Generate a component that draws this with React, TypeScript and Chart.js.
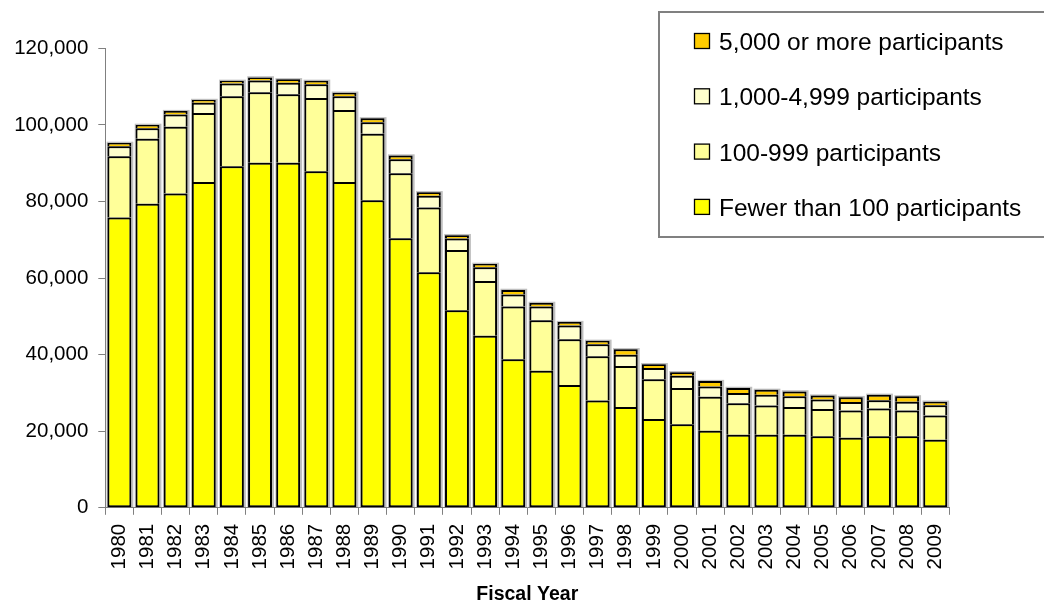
import React, { useEffect, useRef } from 'react';
import { Chart, registerables } from 'chart.js';

Chart.register(...registerables);

const years = [
  '1980', '1981', '1982', '1983', '1984', '1985', '1986', '1987', '1988', '1989',
  '1990', '1991', '1992', '1993', '1994', '1995', '1996', '1997', '1998', '1999',
  '2000', '2001', '2002', '2003', '2004', '2005', '2006', '2007', '2008', '2009',
];

const fewerThan100 = [
  75800, 79400, 82100, 85100, 89200, 90100, 90100, 87900, 85100, 80300,
  70400, 61500, 51600, 44900, 38800, 35800, 32100, 28000, 26300, 23200,
  21800, 20100, 19100, 19100, 19100, 18700, 18300, 18700, 18700, 17800,
];

const from100to999 = [
  16000, 17000, 17400, 18000, 18300, 18400, 17900, 19100, 18800, 17400,
  17000, 16900, 15700, 14300, 13800, 13200, 11900, 11600, 10700, 10400,
  9500, 8900, 8200, 7600, 7200, 7100, 7100, 7200, 6700, 6300,
];

const from1000to4999 = [
  2600, 2700, 3200, 2700, 3300, 3100, 3000, 3600, 3600, 3000,
  3600, 3100, 3000, 3600, 3100, 3600, 3600, 3100, 3000, 2900,
  3200, 2700, 2700, 2800, 2800, 2500, 2200, 2200, 2300, 2700,
];

const from5000up = [
  900, 900, 900, 700, 700, 800, 900, 900, 900, 1000,
  1000, 900, 900, 900, 1200, 900, 900, 900, 1400, 1000,
  900, 1400, 1300, 1300, 1300, 1000, 1300, 1400, 1400, 900,
];

const seriesLabels = [
  'Fewer than 100 participants',
  '100-999 participants',
  '1,000-4,999 participants',
  '5,000 or more participants',
];
const seriesColors = ['#FFFF00', '#FFFF99', '#FFFFCC', '#FFCC00'];

const yMin = 0;
const yMax = 120000;
const yStep = 20000;
const xAxisTitle = 'Fiscal Year';

const FONT = "'Liberation Sans', Arial, Helvetica, sans-serif";

const shadowPlugin = {
  id: 'barShadow',
  beforeDatasetsDraw(chart: any) {
    const metas = chart.getSortedVisibleDatasetMetas();
    if (!metas.length) return;
    const ctx = chart.ctx;
    ctx.save();
    ctx.fillStyle = 'rgba(0,0,0,0.25)';
    const n = metas[0].data.length;
    for (let i = 0; i < n; i++) {
      let top = Infinity;
      for (const m of metas) {
        const el = m.data[i];
        if (el) top = Math.min(top, el.y);
      }
      const el0 = metas[0].data[i];
      const { x, width, base } = el0.getProps(['x', 'width', 'base'], true);
      ctx.fillRect(x - width / 2 - 0.8, top - 1.2, width + 2.8, base - top + 1.2);
    }
    ctx.restore();
  },
};

const legendAndTitlePlugin = {
  id: 'customLegendTitle',
  afterDraw(chart: any) {
    const ctx = chart.ctx;
    const area = chart.chartArea;
    ctx.save();
    // x axis title
    ctx.fillStyle = '#000';
    ctx.font = `bold 19.5px ${FONT}`;
    ctx.textAlign = 'center';
    ctx.textBaseline = 'alphabetic';
    ctx.fillText(xAxisTitle, (area.left + area.right) / 2, 600);

    // legend box
    const boxLeft = 659;
    const boxTop = 12;
    const boxBottom = 237;
    ctx.fillStyle = '#fff';
    ctx.fillRect(boxLeft, boxTop, 1060 - boxLeft, boxBottom - boxTop);
    ctx.strokeStyle = '#808080';
    ctx.lineWidth = 2;
    ctx.strokeRect(boxLeft, boxTop, 1060 - boxLeft, boxBottom - boxTop);

    const datasets = chart.data.datasets;
    const order = datasets.map((_: any, i: number) => i).reverse();
    ctx.font = `24.5px ${FONT}`;
    ctx.textAlign = 'left';
    ctx.textBaseline = 'alphabetic';
    order.forEach((di: number, row: number) => {
      const ds = datasets[di];
      const baseline = 50 + row * 55.3;
      const size = 15;
      const mx = 694.5;
      const my = baseline - 16.5;
      ctx.fillStyle = ds.backgroundColor;
      ctx.fillRect(mx, my, size, size);
      ctx.strokeStyle = '#000';
      ctx.lineWidth = 1.3;
      ctx.strokeRect(mx, my, size, size);
      ctx.fillStyle = '#000';
      ctx.fillText(ds.label, 719, baseline);
    });
    ctx.restore();
  },
};

export default function App() {
  const canvasRef = useRef<HTMLCanvasElement | null>(null);

  useEffect(() => {
    if (!canvasRef.current) return;
    const seriesData = [fewerThan100, from100to999, from1000to4999, from5000up];
    const chart = new Chart(canvasRef.current, {
      type: 'bar',
      data: {
        labels: years,
        datasets: seriesData.map((d, i) => ({
          label: seriesLabels[i],
          data: d,
          backgroundColor: seriesColors[i],
          borderColor: '#000000',
          borderWidth: 2,
          borderSkipped: i === 0 ? false : 'start',
          barPercentage: 0.85,
          categoryPercentage: 1,
        })),
      },
      options: {
        animation: false,
        responsive: true,
        maintainAspectRatio: false,
        layout: { padding: { left: 0, right: 94.7, top: 48.3, bottom: 0 } },
        plugins: {
          legend: { display: false },
          tooltip: { enabled: false },
          title: { display: false },
        },
        scales: {
          x: {
            stacked: true,
            grid: {
              display: true,
              drawOnChartArea: false,
              drawTicks: true,
              tickLength: 7,
              color: '#808080',
              offset: true,
            },
            border: { display: true, color: '#808080', width: 1 },
            ticks: {
              autoSkip: false,
              maxRotation: 90,
              minRotation: 90,
              padding: 9,
              color: '#000',
              font: { family: FONT, size: 20.5 },
            },
            afterFit: (s: any) => {
              s.height = 92.2;
            },
          },
          y: {
            stacked: true,
            min: yMin,
            max: yMax,
            ticks: {
              stepSize: yStep,
              padding: 10,
              color: '#000',
              font: { family: FONT, size: 20.5 },
              callback: (v: any) => Number(v).toLocaleString('en-US'),
            },
            grid: {
              drawOnChartArea: false,
              drawTicks: true,
              tickLength: 7,
              color: '#808080',
            },
            border: { display: true, color: '#808080', width: 1 },
            afterFit: (s: any) => {
              s.width = 105.3;
            },
          },
        },
      },
      plugins: [shadowPlugin, legendAndTitlePlugin],
    });
    return () => chart.destroy();
  }, []);

  return (
    <div
      style={{
        position: 'fixed',
        left: 0,
        top: 0,
        width: 1044,
        height: 600,
        background: '#ffffff',
      }}
    >
      <canvas ref={canvasRef} />
    </div>
  );
}
